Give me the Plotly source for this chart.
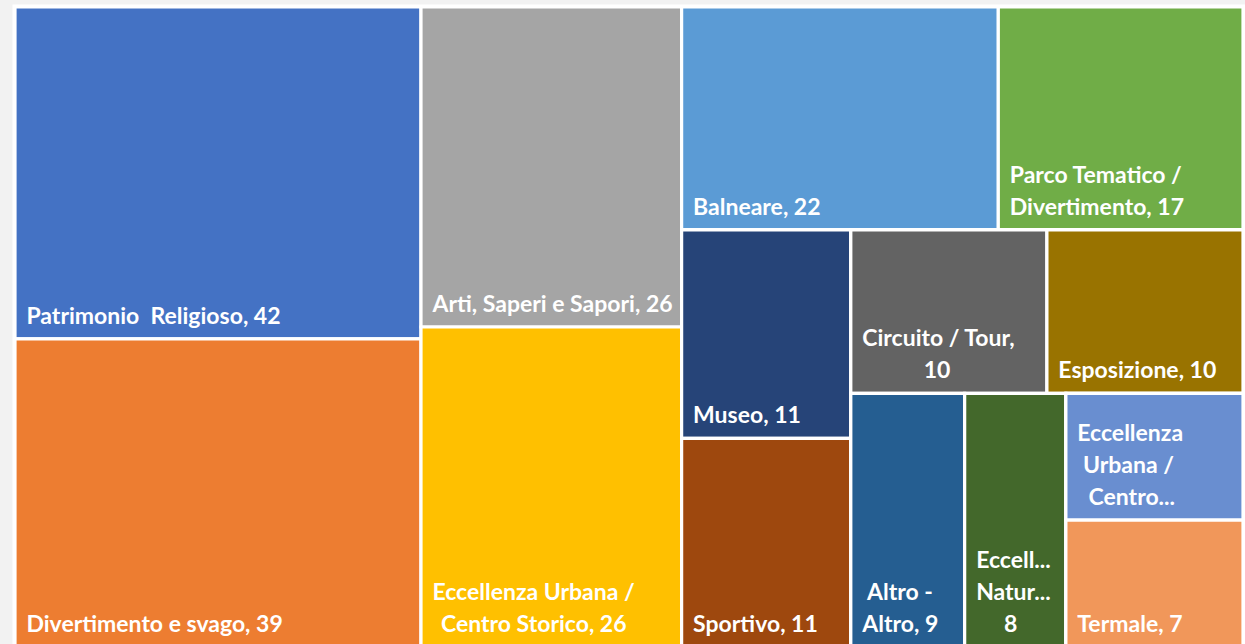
import plotly.graph_objects as go

NB = "\u00a0"
HAIR = "\u200a"

# ---- data -------------------------------------------------------------
categories = [
    "Patrimonio  Religioso",
    "Divertimento e svago",
    "Arti, Saperi e Sapori",
    "Eccellenza Urbana / Centro Storico",
    "Balneare",
    "Parco Tematico / Divertimento",
    "Museo",
    "Sportivo",
    "Circuito / Tour",
    "Esposizione",
    "Altro - Altro",
    "Eccellenza Naturalistica",
    "Eccellenza Urbana / Centro Storico",
    "Termale",
]
values = [42, 39, 26, 26, 22, 17, 11, 11, 10, 10, 9, 8, 7, 7]

# label lines as displayed (wrapped / truncated like the original)
display_lines = [
    ["Patrimonio" + NB + NB + "Religioso, {v}"],
    ["Divertimento e svago, {v}"],
    ["Arti, Saperi e Sapori, {v}"],
    ["Eccellenza Urbana /", NB + HAIR + HAIR + "Centro Storico, {v}"],
    ["Balneare, {v}"],
    ["Parco Tematico /", "Divertimento, {v}"],
    ["Museo, {v}"],
    ["Sportivo, {v}"],
    ["Circuito / Tour,", NB * 11 + "{v}"],
    ["Esposizione, {v}"],
    [NB + "Altro -", "Altro, {v}"],
    ["Eccell...", "Natur...", NB * 5 + "{v}"],
    ["Eccellenza", NB + "Urbana /", NB + NB + "Centro..."],
    ["Termale, {v}"],
]
colors = [
    "#4472C4", "#ED7D31", "#A5A5A5", "#FFC000", "#5B9BD5", "#70AD47",
    "#264478", "#9E480E", "#636363", "#997300", "#255E91", "#43682B",
    "#698ED0", "#F1975A",
]

# tile grouping that reproduces the original's block arrangement
category_group = ["A", "A", "B", "B", "C1", "C1", "D", "D",
                  "E1", "E1", "F", "F", "G", "G"]
groups = ["root", "A", "B", "C", "C1", "C2", "D", "E", "E1", "F", "G"]
group_parents = ["", "root", "root", "root", "C", "C", "C2", "C2",
                 "E", "E", "F"]

# ---- build ------------------------------------------------------------
GLYPH_SIZE = 23      # rendered glyph size
LINE_BASE = 24.6     # base size -> line spacing of ~32px
BOTTOM_SPACER = '<span style="font-size:56px">' + NB + "</span>"
texts = []
for lines, v in zip(display_lines, values):
    ls = ['<span style="font-size:%spx">' % GLYPH_SIZE + NB + HAIR + HAIR
          + ln.format(v=v) + "</span>" for ln in lines]
    texts.append("<br>".join(ls) + BOTTOM_SPACER)

ids = [f"cat{i}" for i in range(len(categories))] + groups
labels = categories + [""] * len(groups)
parents = category_group + group_parents
node_values = values + [0] * len(groups)
node_text = texts + [""] * len(groups)
node_colors = colors + ["white"] * len(groups)

W, H = 1245, 648
ML, MR, MT, MB = 15, 2, 7, 1

fig = go.Figure(
    go.Treemap(
        ids=ids,
        labels=labels,
        parents=parents,
        values=node_values,
        branchvalues="remainder",
        text=node_text,
        textinfo="text",
        texttemplate="%{text}",
        textposition="bottom left",
        textfont=dict(family="Lato", size=LINE_BASE, color="white", weight="bold"),
        marker=dict(
            colors=node_colors,
            line=dict(color="white", width=3.2),
            pad=dict(t=0, l=0, r=0, b=0),
        ),
        tiling=dict(packing="slice-dice", pad=0),
        pathbar=dict(visible=False),
        sort=False,
        hoverinfo="label+value",
    )
)

pw = W - ML - MR
ph = H - MT - MB
fig.update_layout(
    width=W,
    height=H,
    margin=dict(l=ML, r=MR, t=MT, b=MB),
    paper_bgcolor="#F2F2F2",
    uniformtext=dict(minsize=LINE_BASE, mode="show"),
    shapes=[
        dict(type="rect", xref="paper", yref="paper",
             x0=-2.5 / pw, x1=1 + (MR + 2) / pw,
             y0=-(MB + 2) / ph, y1=1 + 2.5 / ph,
             fillcolor="white", line=dict(width=0), layer="below"),
    ],
)

fig.write_html(
    "out.html",
    config={"displayModeBar": False},
    post_script="document.body.style.margin='0';"
                "document.body.style.overflow='hidden';"
                "document.body.style.background='#F2F2F2';",
)
